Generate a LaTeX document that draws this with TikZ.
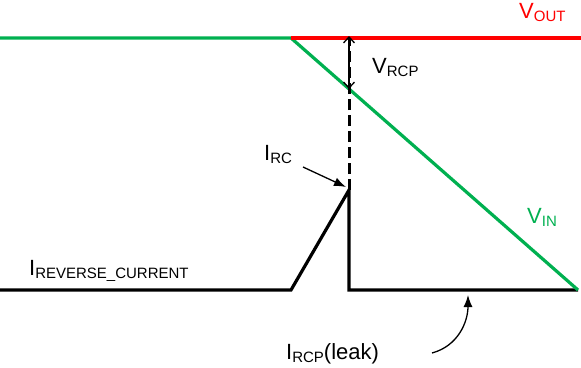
\documentclass[tikz,border=0pt]{standalone}
\usepackage{fontspec}
\setmainfont{Liberation Sans}
\usetikzlibrary{arrows.meta}
\definecolor{vgreen}{RGB}{0,176,80}
\definecolor{vred}{RGB}{255,0,0}
\newcommand{\mainsz}{\fontsize{22}{24}\selectfont}
\newcommand{\sbs}[1]{\raisebox{-3pt}{\fontsize{15}{16}\selectfont #1}}
\begin{document}
\begin{tikzpicture}[x=1pt,y=-1pt,
  lbl/.style={inner sep=0pt, font=\mainsz},
  sig/.style={line width=3.2pt, line join=miter},
  thinarrow/.style={line width=1.3pt, -{Latex[length=12pt,width=9pt]}}]
\useasboundingbox (0,0) rectangle (581,367);
% coordinates
\coordinate (gL) at (0,38);
\coordinate (knee) at (291,38);
\coordinate (gR) at (578,290);
\coordinate (rR) at (581,38);
\coordinate (bL) at (0,290);
\coordinate (b1) at (291,290);
\coordinate (peak) at (349,190);
\coordinate (b2) at (349,290);
\coordinate (bR) at (578,290);
\coordinate (topx) at (349,38);
\coordinate (gx) at (349,89);
% black current trace
\draw[sig, black] (bL) -- (b1) -- (peak) -- (b2) -- (bR);
% green VIN
\draw[sig, vgreen] (gL) -- (knee) -- (gR);
% red VOUT
\draw[sig, vred] (knee) -- (rR);
% dashed vertical
\draw[black, line width=3pt, dash pattern=on 11pt off 5pt] (peak) -- (topx);
% VRCP double arrow
\draw[black, line width=1.3pt, {Straight Barb[length=6pt,width=11pt]}-{Straight Barb[length=6pt,width=11pt]}] ([yshift=2pt]topx) -- (gx);
% labels
\node[lbl, text=vred, anchor=base west] (vout) at (519,18) {V\sbs{OUT}};
\node[lbl, anchor=base west] (vrcp) at (372,73) {V\sbs{RCP}};
\node[lbl, text=vgreen, anchor=base west] (vin) at (527,223) {V\sbs{IN}};
\node[lbl, anchor=base west] (irc) at (264,160) {I\sbs{RC}};
\node[lbl, anchor=base west] (irev) at (29,275) {I\sbs{REVERSE\_CURRENT}};
\node[lbl, anchor=base west] (ileak) at (286,359) {I\sbs{RCP}(leak)};
% connectors
\coordinate (ircs) at (303,167);
\coordinate (irce) at (346,187);
\draw[thinarrow] (ircs) -- (irce);
\coordinate (lks) at (432,353);
\coordinate (lke) at (468,295);
\draw[thinarrow] (lks) .. controls (458,346) and (468,322) .. (lke);
\end{tikzpicture}
\end{document}
